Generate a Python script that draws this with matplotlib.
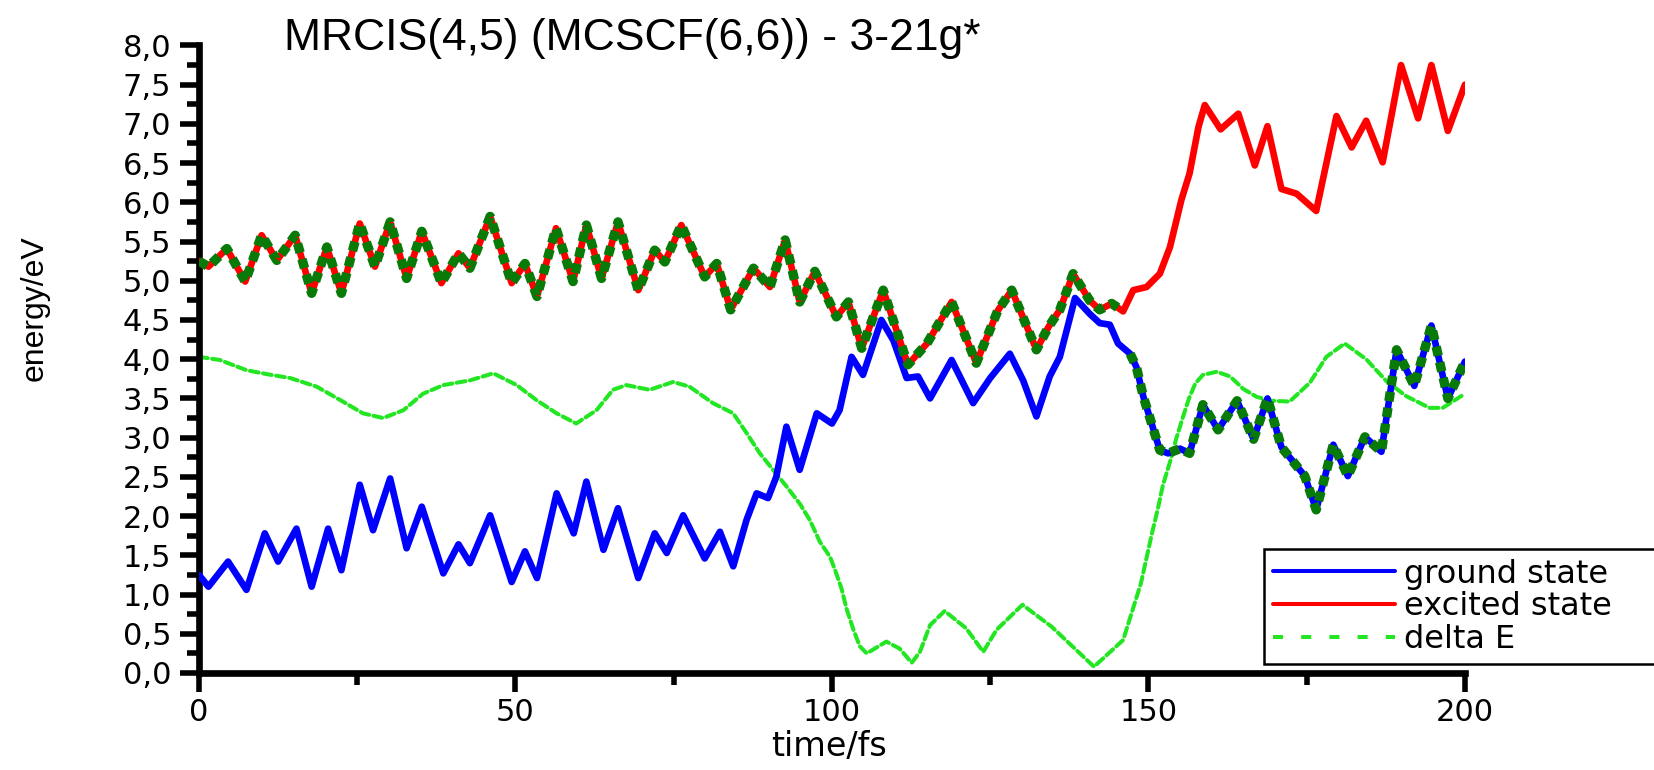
import numpy as np
import matplotlib
matplotlib.use('Agg')
import matplotlib.pyplot as plt
from matplotlib.ticker import MultipleLocator, FuncFormatter

plt.rcParams['font.family'] = ['Liberation Sans', 'DejaVu Sans']

# ground state energy (eV) vs time (fs)
t_ground = [0.0, 1.5, 4.6, 7.5, 10.4, 12.5, 15.4, 17.8, 20.4, 22.5, 25.4, 27.5, 30.2, 32.8,
            35.2, 38.6, 41.0, 42.8, 46.0, 49.4, 51.5, 53.4, 56.5, 59.2, 61.2, 63.9, 66.2,
            69.4, 72.0, 73.9, 76.5, 79.9, 82.3, 84.4, 86.5, 88.1, 89.9, 91.2, 92.8, 94.9,
            97.6, 100.0, 101.2, 103.1, 104.9, 107.8, 109.7, 111.8, 113.6, 115.5, 118.9,
            122.3, 125.0, 128.1, 130.2, 132.3, 134.4, 136.0, 138.4, 140.7, 142.3, 143.9,
            145.2, 147.1, 148.1, 149.2, 150.5, 151.8, 153.1, 155.0, 156.5, 158.6, 161.0,
            164.0, 166.6, 168.8, 171.0, 172.8, 174.7, 176.5, 179.2, 181.5, 184.2, 186.8,
            189.2, 192.0, 194.7, 197.3, 200.0]
e_ground = [1.25, 1.10, 1.42, 1.06, 1.78, 1.42, 1.84, 1.10, 1.84, 1.31, 2.40, 1.82, 2.48, 1.59,
            2.12, 1.27, 1.64, 1.40, 2.01, 1.16, 1.55, 1.21, 2.29, 1.78, 2.44, 1.57, 2.10,
            1.21, 1.78, 1.53, 2.01, 1.46, 1.80, 1.36, 1.95, 2.29, 2.23, 2.50, 3.14, 2.59,
            3.31, 3.18, 3.35, 4.03, 3.80, 4.50, 4.24, 3.76, 3.78, 3.50, 3.99,
            3.44, 3.76, 4.07, 3.73, 3.27, 3.78, 4.03, 4.78, 4.58, 4.46, 4.44,
            4.20, 4.07, 3.90, 3.52, 3.18, 2.84, 2.80, 2.86, 2.80, 3.42, 3.10,
            3.47, 2.98, 3.50, 2.88, 2.70, 2.51, 2.08, 2.91, 2.51, 3.01, 2.82,
            4.12, 3.66, 4.43, 3.50, 3.97]

# excited state energy (eV)
t_excited = [0.0, 1.5, 4.4, 7.3, 9.9, 12.3, 15.2, 17.8, 20.2, 22.5, 25.4, 27.8, 30.2, 32.8,
             35.2, 38.3, 41.0, 42.8, 46.0, 49.4, 51.5, 53.4, 56.4, 59.1, 61.2, 63.6, 66.2,
             69.4, 72.0, 73.6, 76.2, 79.9, 81.8, 84.0, 87.6, 90.2, 92.6, 94.9, 97.3, 100.7,
             102.6, 104.7, 108.1, 112.0, 115.0, 118.9, 122.8, 126.2, 128.4, 132.3, 134.2,
             136.0, 138.1, 140.7, 142.3, 144.2, 146.0, 147.6, 149.7, 151.8, 153.4, 155.2,
             156.5, 157.9, 158.9, 161.4, 164.2, 166.8, 168.8, 171.0, 173.4, 176.5, 179.7,
             182.1, 184.4, 187.0, 189.9, 192.6, 194.7, 197.3, 200.0]
e_excited = [5.25, 5.18, 5.41, 4.99, 5.58, 5.26, 5.58, 4.84, 5.43, 4.84, 5.73, 5.18, 5.75, 5.03,
             5.63, 4.97, 5.35, 5.16, 5.82, 4.97, 5.22, 4.80, 5.67, 4.99, 5.71, 5.03, 5.75,
             4.88, 5.39, 5.24, 5.71, 5.05, 5.22, 4.63, 5.16, 4.92, 5.52, 4.73, 5.12, 4.54,
             4.73, 4.14, 4.88, 3.93, 4.20, 4.73, 3.95, 4.62, 4.88, 4.12, 4.41,
             4.63, 5.09, 4.75, 4.63, 4.71, 4.61, 4.88, 4.92, 5.09, 5.43, 6.03,
             6.37, 6.96, 7.24, 6.93, 7.13, 6.47, 6.97, 6.17, 6.11, 5.89, 7.10,
             6.70, 7.04, 6.51, 7.75, 7.07, 7.75, 6.91, 7.50]

# energy gap delta E (eV)
t_delta = [0.0, 3.3, 7.5, 10.7, 14.4, 18.6, 22.3, 25.9, 29.1, 32.3, 35.4, 38.6, 42.8, 46.5,
           50.2, 53.3, 56.5, 59.6, 62.8, 65.4, 67.5, 71.2, 74.9, 77.5, 81.2, 84.4, 86.5,
           88.6, 90.7, 92.8, 94.9, 96.5, 98.1, 99.7, 100.5, 101.5, 102.3, 103.4, 104.4,
           105.5, 108.6, 110.7, 112.6, 113.9, 115.5, 117.8, 121.2, 123.9, 126.0, 130.1,
           134.7, 141.4, 146.0, 148.8, 150.5, 151.5, 152.3, 153.4, 154.4, 155.4, 156.4,
           157.4, 158.6, 160.8, 162.9, 165.0, 167.1, 169.5, 172.3, 175.5, 178.1, 181.0,
           184.4, 187.6, 190.7, 194.4, 196.5, 200.0]
e_delta = [4.03, 3.99, 3.86, 3.81, 3.76, 3.65, 3.48, 3.31, 3.25, 3.35, 3.56, 3.67, 3.73, 3.82,
           3.67, 3.48, 3.31, 3.18, 3.35, 3.61, 3.67, 3.61, 3.71, 3.65, 3.44, 3.31, 3.06,
           2.80, 2.59, 2.38, 2.16, 1.95, 1.67, 1.48, 1.31, 1.08, 0.82, 0.55, 0.34,
           0.25, 0.40, 0.31, 0.13, 0.27, 0.61, 0.79, 0.57, 0.27, 0.55, 0.87,
           0.59, 0.08, 0.42, 1.14, 1.76, 2.10, 2.40, 2.69, 2.99, 3.25, 3.50,
           3.69, 3.80, 3.84, 3.78, 3.62, 3.52, 3.47, 3.46, 3.70, 4.03, 4.20,
           4.00, 3.72, 3.53, 3.38, 3.38, 3.56]

hop_time = 146.0  # surface hop: excited -> ground

t_ground = np.array(t_ground)
e_ground = np.array(e_ground)
t_excited = np.array(t_excited)
e_excited = np.array(e_excited)

fig = plt.figure(figsize=(16.54, 7.70), dpi=100)
ax = fig.add_axes([0.1203, 0.1260, 0.7654, 0.8150])

l_delta, = ax.plot(t_delta, e_delta, color='#22e622', linewidth=2.9, dashes=(2.2, 1.1),
                   dash_capstyle='round', label='delta E', zorder=2)
l_gnd, = ax.plot(t_ground, e_ground, color='#0000ff', linewidth=4.8, label='ground state',
                 solid_joinstyle='round', solid_capstyle='round', zorder=3)
l_exc, = ax.plot(t_excited, e_excited, color='#ff0000', linewidth=4.8, label='excited state',
                 solid_joinstyle='round', solid_capstyle='round', zorder=3)

# active state (dark green dotted overlay)
m1 = t_excited <= hop_time
m2 = t_ground >= hop_time
ax.plot(t_excited[m1], e_excited[m1], color='#087a08', linewidth=6.8, dashes=(1.0, 0.7),
        dash_capstyle='butt', zorder=4)
ax.plot(t_ground[m2], e_ground[m2], color='#087a08', linewidth=6.8, dashes=(1.0, 0.7),
        dash_capstyle='butt', zorder=4)

ax.set_xlim(0, 200)
ax.set_ylim(0, 8)
ax.spines['top'].set_visible(False)
ax.spines['right'].set_visible(False)
ax.spines['left'].set_linewidth(4.8)
ax.spines['bottom'].set_linewidth(4.8)

ax.xaxis.set_major_locator(MultipleLocator(50))
ax.xaxis.set_minor_locator(MultipleLocator(25))
ax.yaxis.set_major_locator(MultipleLocator(0.5))
ax.yaxis.set_minor_locator(MultipleLocator(0.25))
ax.yaxis.set_major_formatter(FuncFormatter(lambda v, p: f'{v:.1f}'.replace('.', ',')))
ax.tick_params(which='major', direction='out', length=14, width=4,
               labelsize=22, labelfontfamily='DejaVu Sans')
ax.tick_params(which='minor', direction='out', length=8.5, width=4)
ax.tick_params(axis='x', pad=4)
ax.tick_params(axis='y', pad=6)

fig.text(0.382, 0.935, 'MRCIS(4,5) (MCSCF(6,6)) - 3-21g*', ha='center', va='baseline',
         fontsize=32)
fig.text(0.501, 0.030, 'time/fs', ha='center', va='center', fontsize=24,
         family=['DejaVu Sans'])
fig.text(0.0210, 0.60, 'energy/eV', ha='center', va='center', rotation=90, fontsize=23,
         family=['Liberation Sans Narrow', 'Liberation Sans', 'DejaVu Sans'])

leg = ax.legend(handles=[l_gnd, l_exc, l_delta], loc='upper left',
                bbox_to_anchor=(0.7545, 0.1468, 0.30, 0.1610),
                bbox_transform=fig.transFigure, mode='expand', fancybox=False,
                edgecolor='black', framealpha=1, borderpad=0.3, labelspacing=0.05,
                handlelength=3.8, handletextpad=0.3,
                prop={'family': 'DejaVu Sans', 'size': 23})
leg.get_frame().set_linewidth(1.8)
for h in leg.get_lines():
    h.set_linewidth(2.9)
leg.get_lines()[2].set_dashes((2.5, 4.5))
leg.get_lines()[2].set_dash_capstyle('butt')

fig.savefig('out.png', dpi=100)
